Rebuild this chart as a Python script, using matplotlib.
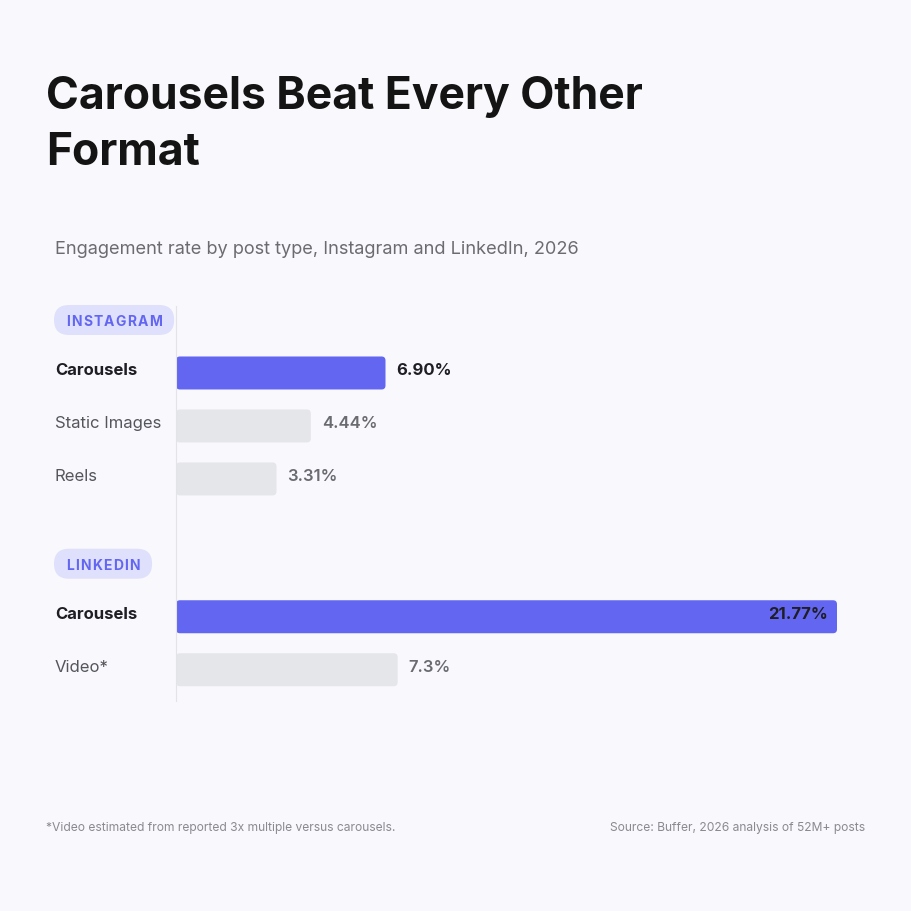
import matplotlib.pyplot as plt
import matplotlib.transforms as mtrans
from matplotlib.patches import FancyBboxPatch

plt.rcParams['font.family'] = ['Inter', 'DejaVu Sans']

instagram_types = ["Carousels", "Static Images", "Reels"]
instagram_rates = [6.90, 4.44, 3.31]
instagram_labels = ["6.90%", "4.44%", "3.31%"]
linkedin_types = ["Carousels", "Video*"]
linkedin_rates = [21.77, 7.3]
linkedin_labels = ["21.77%", "7.3%"]
groups = ["INSTAGRAM", "LINKEDIN"]

BG = '#F8F8FD'
PURPLE = '#6366F1'
GRAY_BAR = '#E5E6EA'
PILL = '#DFE0FC'
W = H = 912

fig = plt.figure(figsize=(9.12, 9.12), dpi=100, facecolor=BG)
ax = fig.add_axes([176 / W, 1 - 702 / H, (837 - 176) / W, (702 - 307) / H])
ax.set_facecolor(BG)

# row positions: pill, bars..., gap, pill, bars
ig_rows = [1, 2, 3]
li_rows = [5.6, 6.6]
pill_rows = [0, 4.6]
ax.set_xlim(0, max(linkedin_rates))
ax.set_ylim(7.19, -0.264)
for s in ['top', 'right', 'bottom']:
    ax.spines[s].set_visible(False)
ax.spines['left'].set_color('#E3E3E8')
ax.spines['left'].set_linewidth(0.8)
ax.set_xticks([])
ax.set_yticks([])

px_x = max(linkedin_rates) / (837 - 176)   # data per pixel in x
px_y = (7.19 + 0.264) / (702 - 307)        # data per pixel in y
bar_h = 33 * px_y
lift = 3 * px_y                             # text sits a bit above bar centre
lab_tr = mtrans.blended_transform_factory(fig.transFigure, ax.transData)

rows = ig_rows + li_rows
types = instagram_types + linkedin_types
rates = instagram_rates + linkedin_rates
labels = instagram_labels + linkedin_labels
for r, t, v, l in zip(rows, types, rates, labels):
    top = (t == "Carousels")
    ax.add_patch(FancyBboxPatch((0, r - bar_h / 2), v, bar_h,
                                boxstyle="round,pad=0,rounding_size=%f" % (4 * px_x),
                                mutation_aspect=px_y / px_x,
                                fc=PURPLE if top else GRAY_BAR, ec='none'))
    fig.text(55 / W, r - lift, t, transform=lab_tr, ha='left', va='center',
             fontsize=12, fontweight='bold' if top else 'normal',
             color='#1E1E24' if top else '#55565C')
    if v == max(rates):
        ax.text(v - 9 * px_x, r - lift, l, ha='right', va='center', fontsize=12,
                fontweight='bold', color='#1E1E24')
    else:
        ax.text(v + 11 * px_x, r - lift, l, ha='left', va='center', fontsize=12,
                fontweight='bold' if top else 'semibold',
                color='#1E1E24' if top else '#6A6B70')

# group pills, letters drawn one by one for tracking
fig.canvas.draw()
rend = fig.canvas.get_renderer()
for g, r in zip(groups, pill_rows):
    x = 66
    y0 = ax.transData.transform((0, r))[1]
    for ch in g:
        t = fig.text(x, y0, ch, transform=None, ha='left', va='center_baseline',
                     fontsize=10, fontweight='bold', color=PURPLE)
        x = t.get_window_extent(rend).x1 + 1.3
    pill = FancyBboxPatch((54, y0 - 15), x - 1.3 + 12 - 54, 30,
                          boxstyle="round,pad=0,rounding_size=15",
                          transform=None, fc=PILL, ec='none', zorder=0)
    fig.patches.append(pill)

fig.text(46 / W, 1 - 76 / H, "Carousels Beat Every Other\nFormat", ha='left', va='top',
         fontsize=32, fontweight='bold', color='#141414', linespacing=1.42)
fig.text(55 / W, 1 - 248 / H, "Engagement rate by post type, Instagram and LinkedIn, 2026",
         ha='left', va='center_baseline', fontsize=13.1, color='#6B6B70')
fig.text(46 / W, 1 - 827 / H, "*Video estimated from reported 3x multiple versus carousels.",
         ha='left', va='center_baseline', fontsize=8.7, color='#8A8A90')
fig.text(865 / W, 1 - 827 / H, "Source: Buffer, 2026 analysis of 52M+ posts",
         ha='right', va='center_baseline', fontsize=8.7, color='#8A8A90')

fig.savefig('out.png', dpi=100, facecolor=BG)
